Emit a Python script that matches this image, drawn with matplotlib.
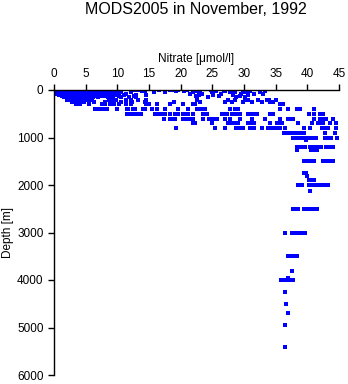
import matplotlib
matplotlib.use("Agg")
import matplotlib.pyplot as plt

plt.rcParams['font.family'] = ['Liberation Sans', 'DejaVu Sans']

title = "MODS2005 in November, 1992"
xlabel = "Nitrate [\u03bcmol/l]"
ylabel = "Depth [m]"
xticks = [0, 5, 10, 15, 20, 25, 30, 35, 40, 45]
yticks = [0, 1000, 2000, 3000, 4000, 5000, 6000]

# nitrate values observed at each depth level
d0 = [0.1, 0.3, 0.5, 0.8, 1.1, 1.4, 1.7, 2.0, 2.4, 2.8, 3.1, 3.5, 3.9, 4.2, 4.6, 5.0, 6.0, 10.6, 13.3, 14.2, 16.5, 19.6, 22.3, 23.0]
d10 = [0.1, 0.4, 0.7, 1.0, 1.3, 1.6, 2.0, 2.3, 2.6, 3.0, 3.3, 3.7, 4.0, 4.4, 4.8, 5.3, 5.8, 6.4, 7.1, 7.8, 8.5, 9.4, 12.8, 18.3, 18.9, 21.0, 24.8, 25.3]
d20 = [0.2, 0.5, 0.9, 1.2, 1.5, 1.9, 2.2, 2.6, 2.9, 3.3, 3.6, 4.0, 4.3, 4.7, 5.1, 5.6, 6.2, 6.8, 7.5, 8.2, 9.0, 9.8, 13.9, 19.3, 22.7, 25.6, 27.0, 29.8, 30.4]
d30 = [0.1, 0.4, 0.8, 1.1, 1.5, 1.8, 2.2, 2.5, 2.9, 3.2, 3.6, 4.0, 4.4, 4.9, 5.4, 6.0, 6.6, 7.3, 8.0, 8.9, 9.6, 14.4, 20.6, 22.1, 26.8, 28.0, 31.0, 33.3]
d50 = [0.3, 0.7, 1.0, 1.4, 1.8, 2.1, 2.5, 2.9, 3.3, 3.7, 4.1, 4.5, 5.0, 5.5, 6.1, 6.8, 7.6, 8.4, 9.2, 10.0, 10.6, 12.2, 15.8, 17.5, 22.0, 24.9, 27.8, 28.6, 30.1, 32.5]
d75 = [0.5, 0.9, 1.3, 1.7, 2.1, 2.5, 2.9, 3.3, 3.7, 4.2, 4.7, 5.2, 5.8, 6.4, 7.0, 7.7, 8.5, 9.3, 11.4, 21.5, 23.4, 26.4, 29.6, 31.6, 33.0]
d100 = [0.8, 1.2, 1.7, 2.1, 2.5, 3.0, 3.4, 3.9, 4.4, 4.9, 5.4, 6.0, 6.6, 7.3, 8.0, 8.8, 9.6, 11.1, 13.0, 14.5, 22.9, 25.1, 28.2, 30.6]
d125 = [1.2, 1.7, 2.2, 2.7, 3.2, 3.7, 4.2, 4.7, 5.3, 5.9, 6.5, 7.2, 7.9, 9.0, 10.2, 12.6, 22.4, 26.0, 29.3]
d150 = [1.5, 2.0, 2.5, 3.0, 3.5, 4.0, 4.5, 5.0, 5.6, 6.2, 7.0, 8.5, 9.3, 10.5, 11.8, 13.0, 22.6, 24.3, 28.8, 30.2]
d200 = [2.0, 2.5, 3.0, 3.6, 4.2, 4.8, 5.4, 6.0, 8.7, 9.2, 9.8, 11.4, 12.1, 13.2, 14.6, 22.6, 27.5, 28.5, 30.1, 30.7, 32.2, 33.6, 33.9, 35.0]
d250 = [2.9, 3.5, 4.1, 4.8, 5.5, 6.3, 8.0, 9.5, 10.5, 12.3, 14.3, 19.0, 23.0, 27.0, 28.1, 29.9, 31.3, 32.8, 34.1, 34.5]
d300 = [3.5, 4.1, 5.5, 7.6, 8.1, 8.8, 9.4, 10.2, 11.4, 12.2, 14.5, 15.0, 16.3, 18.3, 20.4, 22.0, 22.3, 35.7, 36.2]
d400 = [6.5, 6.8, 7.0, 7.5, 7.9, 8.3, 9.9, 11.5, 11.7, 12.4, 12.8, 14.1, 14.4, 15.4, 16.2, 17.5, 19.6, 21.2, 22.5, 23.0, 23.4, 23.8, 27.8, 28.6, 29.1, 35.7, 37.0, 38.3, 38.8, 41.0]
d500 = [11.5, 11.7, 12.3, 12.7, 13.0, 13.3, 13.8, 16.0, 16.2, 16.7, 17.1, 17.5, 18.3, 19.1, 19.6, 20.4, 20.8, 21.2, 22.0, 23.6, 24.1, 26.5, 26.9, 27.3, 28.1, 28.6, 29.0, 29.4, 30.7, 31.1, 31.6, 32.0, 34.1, 34.6, 40.2, 41.0, 42.0, 42.5]
d600 = [17.3, 18.3, 18.7, 19.1, 20.4, 20.9, 21.5, 22.0, 23.6, 24.5, 24.9, 25.3, 25.7, 27.0, 27.8, 29.4, 31.2, 33.3, 35.7, 37.0, 37.4, 37.8, 41.0, 42.0, 42.5, 43.0, 44.1]
d700 = [22.0, 22.3, 24.9, 27.5, 28.0, 28.6, 29.1, 30.7, 31.1, 31.5, 34.1, 35.2, 35.7, 36.0, 38.6, 40.7, 41.7, 42.1, 42.5, 43.6, 44.6]
d800 = [19.3, 25.4, 27.0, 28.8, 29.3, 29.9, 31.0, 31.5, 32.8, 33.8, 34.3, 34.9, 35.2, 35.7, 36.5, 39.4, 40.4, 42.3, 42.8, 43.3, 44.6]
d900 = [36.3, 36.7, 37.1, 37.5, 37.9, 38.3, 38.7, 39.1, 39.5, 42.8, 44.4]
d1000 = [37.7, 38.1, 38.5, 38.9, 39.3, 39.7, 40.1, 40.5, 40.9, 41.3, 42.8, 43.3, 43.8, 44.7]
d1060 = [39.8]
d1200 = [38.3, 39.0, 39.4, 39.7, 40.4, 40.8, 41.2, 41.6, 42.0, 42.2, 43.0, 43.5, 44.0]
d1260 = [38.3, 40.5, 41.0, 41.5]
d1500 = [39.5, 39.9, 40.3, 40.7, 41.0, 42.4, 42.8, 43.2, 43.6, 44.0]
d1750 = [39.4, 39.8]
d1800 = [40.0]
d1900 = [40.3, 40.7, 41.0]
d2000 = [38.6, 39.1, 40.3, 40.7, 41.1, 41.5, 41.9, 42.3, 42.7, 43.3]
d2125 = [40.4]
d2500 = [37.8, 38.2, 38.6, 39.5, 39.9, 40.3, 40.7, 41.1, 41.5]
d3000 = [36.5, 37.6, 38.0, 38.4, 38.8, 39.2, 39.6]
d3500 = [36.9, 37.3, 37.7, 38.1, 38.4]
d3800 = [37.5]
d3950 = [37.0]
d4000 = [35.8, 36.5, 36.9, 37.3, 37.7]
d4250 = [36.5]
d4500 = [36.7]
d4700 = [37.0]
d4950 = [36.5]
d5400 = [36.5]

levels = {0: d0, 10: d10, 20: d20, 30: d30, 50: d50, 75: d75, 100: d100, 125: d125,
          150: d150, 200: d200, 250: d250, 300: d300, 400: d400, 500: d500, 600: d600,
          700: d700, 800: d800, 900: d900, 1000: d1000, 1060: d1060, 1200: d1200,
          1260: d1260, 1500: d1500, 1750: d1750, 1800: d1800, 1900: d1900, 2000: d2000,
          2125: d2125, 2500: d2500, 3000: d3000, 3500: d3500, 3800: d3800, 3950: d3950,
          4000: d4000, 4250: d4250, 4500: d4500, 4700: d4700, 4950: d4950, 5400: d5400}

xs, ys = [], []
for dep, vals in levels.items():
    for v in vals:
        xs.append(v)
        ys.append(dep)

fig = plt.figure(figsize=(3.48, 3.84), dpi=100)
ax = fig.add_axes([54/348, 1 - 375/384, 285/348, 285/384])
ax.plot(xs, ys, linestyle='none', marker='s', markersize=2.4, markeredgewidth=0,
        color='#0000ff')
ax.set_xlim(0, 45)
ax.set_ylim(6000, 0)
ax.set_xticks(xticks)
ax.set_yticks(yticks)
ax.xaxis.tick_top()
ax.xaxis.set_label_position('top')
for s in ['right', 'bottom']:
    ax.spines[s].set_visible(False)
for s in ['left', 'top']:
    ax.spines[s].set_linewidth(1.0)
ax.tick_params(axis='both', direction='out', length=4.5, width=1.0, labelsize=8.5, pad=3)
ax.set_xlabel(xlabel, fontsize=8.5, labelpad=4)
ax.set_ylabel(ylabel, fontsize=8.5)
ax.yaxis.label.set_va('center')
ax.yaxis.set_label_coords(-46/285, 0.5)
ax.patch.set_alpha(0)
fig.text(196/348, 1 - 10/384, title, ha='center', va='center', fontsize=11.5)
fig.savefig("out.png", dpi=100)
